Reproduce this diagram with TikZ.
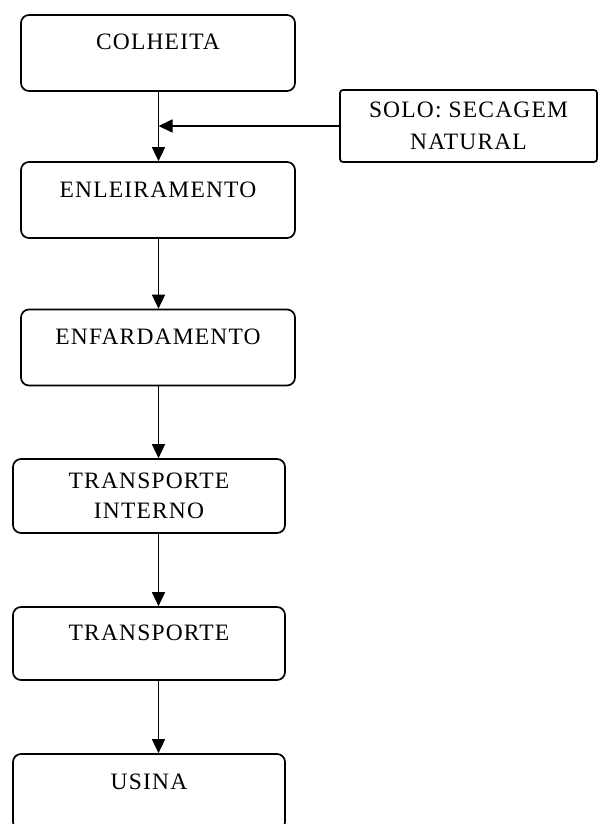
\documentclass[tikz,border=0pt]{standalone}
\usepackage{fontspec}
\setmainfont[LetterSpace=5]{Liberation Serif}
\usetikzlibrary{arrows.meta}
\begin{document}
\begin{tikzpicture}[x=1pt,y=-1pt,
  box/.style={draw, line width=1.7pt, rounded corners=8pt, minimum width=274pt, minimum height=76pt, inner sep=0pt, font=\fontsize{23.5}{30}\selectfont, align=center},
  oneline/.style={text height=15pt, text depth=21pt},
  sidebox/.style={draw, line width=1.7pt, rounded corners=3pt, minimum width=257pt, minimum height=72pt, inner sep=0pt, font=\fontsize{23.5}{32}\selectfont, align=center},
  arr/.style={line width=1.7pt, -{Triangle[length=14pt,width=13pt]}}]
\useasboundingbox (0,0) rectangle (598,824);
\fill[white] (0,0) rectangle (598,824);
\node[box, oneline] (colheita) at (158,53) {COLHEITA};
\node[box, oneline] (enleira) at (158,200) {ENLEIRAMENTO};
\node[box, oneline] (enfarda) at (158,347.5) {ENFARDAMENTO};
\node[box, minimum width=272pt, minimum height=74pt] (interno) at (149,496) {TRANSPORTE\\INTERNO};
\node[box, oneline, minimum width=272pt, minimum height=73pt] (transp) at (149,643.5) {TRANSPORTE};
\node[box, oneline, minimum width=272pt] (usina) at (149,792) {USINA};
\node[sidebox] (solo) at (468.5,126) {SOLO: SECAGEM\\NATURAL};
\coordinate (ax) at (158.5,0);
\coordinate (join) at (ax |- solo.west);
\draw[arr] (colheita.south -| ax) -- (enleira.north -| ax);
\draw[arr] (solo.west) -- (join);
\draw[arr] (enleira.south -| ax) -- (enfarda.north -| ax);
\draw[arr] (enfarda.south -| ax) -- (interno.north -| ax);
\draw[arr] (interno.south -| ax) -- (transp.north -| ax);
\draw[arr] (transp.south -| ax) -- (usina.north -| ax);
\end{tikzpicture}
\end{document}
